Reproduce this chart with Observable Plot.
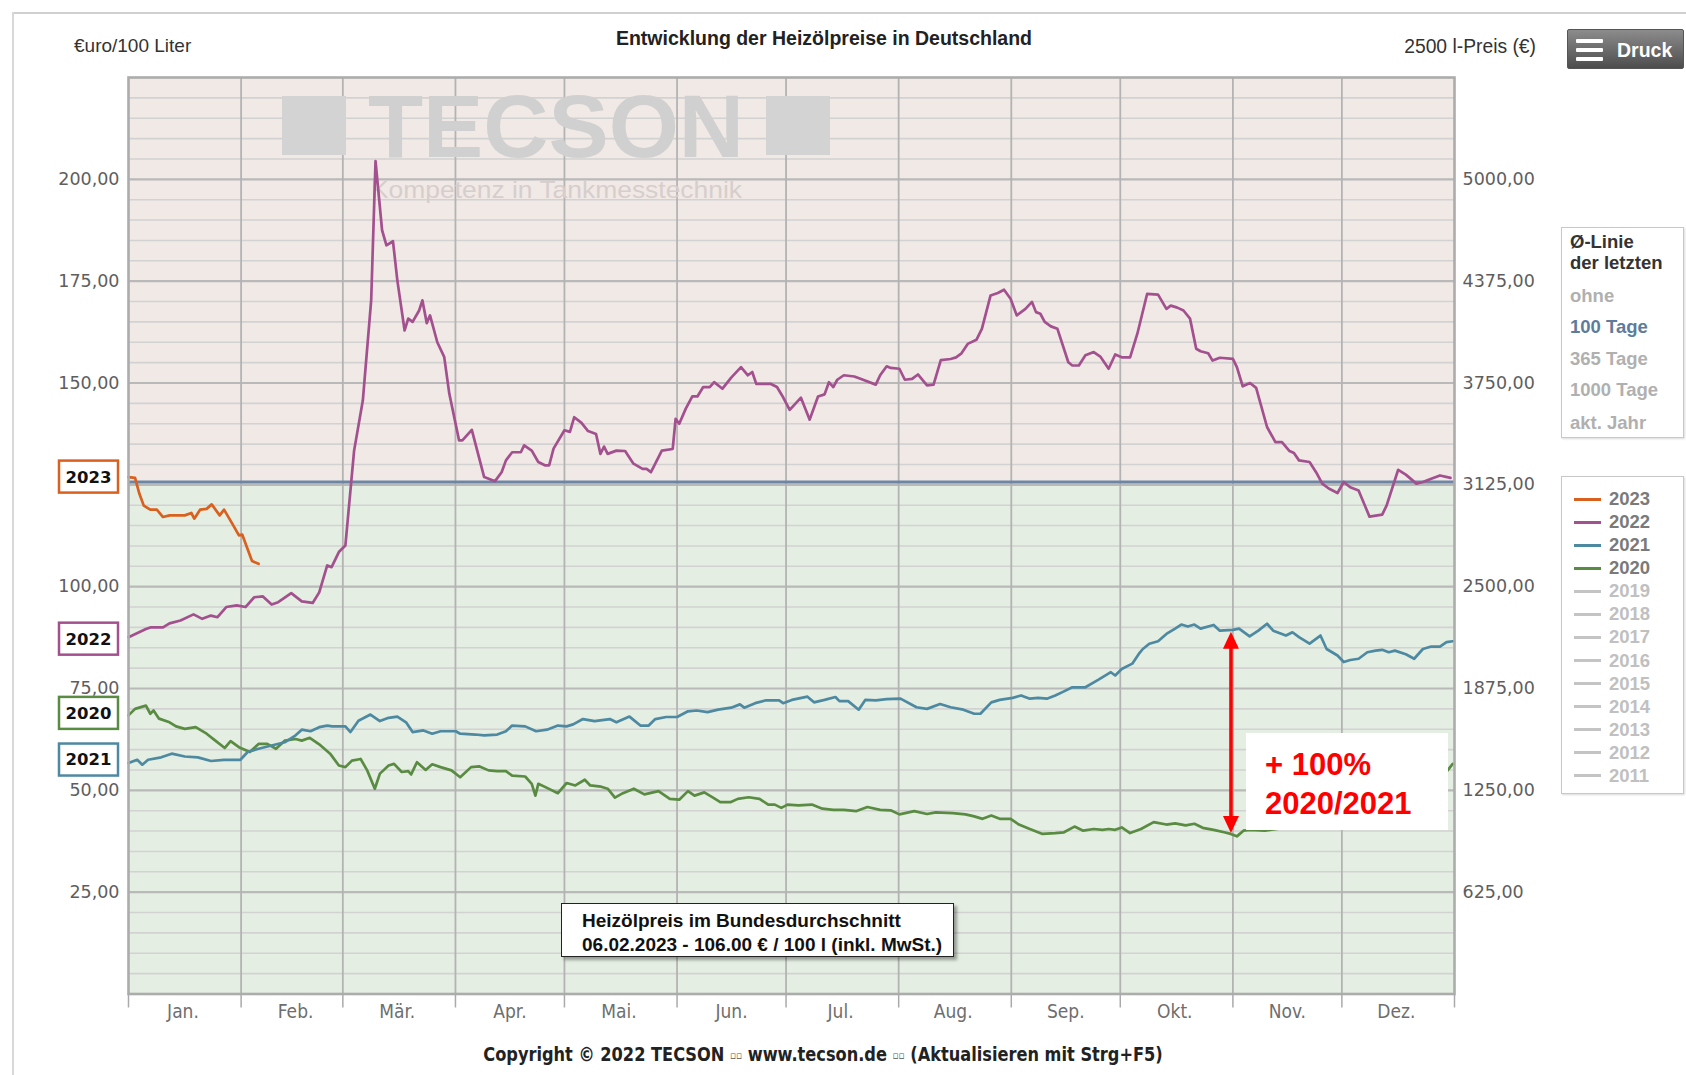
<!DOCTYPE html>
<html>
<head>
<meta charset="utf-8">
<script src="https://cdn.jsdelivr.net/npm/d3@7"></script>
<script src="https://cdn.jsdelivr.net/npm/@observablehq/plot@0.6"></script>
<style>
  html, body { margin: 0; padding: 0; background: #fff; }
  #wrap { position: relative; width: 1686px; height: 1075px; overflow: hidden; background: #fff; }
  #wrap svg.plot { position: absolute; left: 0; top: 0; }
  .abs { position: absolute; white-space: nowrap; }
  .arial { font-family: "Liberation Sans", Arial, sans-serif; }
  .narrow { font-family: "DejaVu Sans Condensed", "DejaVu Sans", sans-serif; font-stretch: condensed; }
  .ytick text { font-family: "DejaVu Sans", Verdana, sans-serif; font-size: 17.5px; fill: #5e5e5e; }
  .xtick text { font-family: "DejaVu Sans Condensed", "DejaVu Sans", sans-serif; font-stretch: condensed; font-size: 19px; fill: #6e6e6e; }
</style>
</head>
<body>
<div id="wrap"></div>
<script>
// ---------------- data ----------------
const months = ["Jan.","Feb.","Mär.","Apr.","Mai.","Jun.","Jul.","Aug.","Sep.","Okt.","Nov.","Dez."];
const monthStarts = [0,31,59,90,120,151,181,212,243,273,304,334,365];
const monthMids = [15,46,74,105,135,166,196,227,258,288,319,349];
const yTicks = [25,50,75,100,125,150,175,200];
const yTicksLeft = [25,50,75,100,150,175,200];   // 125,00 is hidden behind the "2023" tag in the reference
const yMinor = [5,10,15,20,30,35,40,45,55,60,65,70,80,85,90,95,105,110,115,120,130,135,140,145,155,160,165,170,180,185,190,195,205,210,215,220];
const avgLine = 125.7;           // Ø-Linie 100 Tage
const literFactor = 25;          // 2500 l-Preis = €/100 l × 25

const s2023 = [[0,126.9],[1.8,126.7],[3,122.8],[4.2,119.9],[6,118.9],[7.8,118.9],[9.5,117.1],[11.3,117.5],[15.5,117.5],[17.3,118.1],[18.1,116.7],[19.7,118.9],[21.5,119.1],[22.9,120.2],[25.1,117.5],[26.3,118.9],[28.6,115.4],[30.4,112.6],[31.3,112.8],[34,106.3],[35.8,105.6]];

const s2022 = [[0,87.6],[4.8,89.6],[6,90],[9.5,90],[11.3,91],[14.3,91.7],[17.9,93.2],[20.3,92.1],[22.7,92.9],[24.5,92.5],[26.9,95],[29.8,95.4],[32.2,95],[34.6,97.4],[37,97.6],[39.4,95.6],[41.2,96.2],[44.8,98.4],[47.7,96.4],[50.7,96],[52.5,98.6],[54.7,105.2],[55.9,104.8],[57.9,108.5],[59.7,110.1],[62.1,133.4],[64.5,145.7],[66.8,170.3],[68,204.5],[69.8,187.5],[71,183.8],[72.8,184.8],[74,175.2],[76,162.9],[77,165.8],[78.2,165],[80,167.8],[80.9,170.3],[82.1,164.7],[83,166.6],[85,160],[86.9,156.4],[88.3,147.4],[91,135.9],[91.9,135.9],[94.5,138.5],[97.9,126.9],[100.9,125.9],[102.7,128.1],[103.9,131],[105.6,133],[108,133],[108.9,134.7],[111,133.4],[112.8,130.6],[114.6,129.8],[115.8,129.8],[117,133.9],[120,138.4],[121.5,138],[122.7,141.6],[124.7,140.2],[126.5,138.2],[128.7,137.5],[129.9,132.6],[130.9,134.4],[131.9,132.6],[134.3,133.4],[136.7,133.3],[139,130.2],[141.5,128.9],[142.6,128.9],[143.8,128.1],[145,130.2],[146.8,133.4],[149.8,133.8],[150.6,141.2],[151.6,140],[153.4,143.7],[155.2,146.7],[156.6,146.7],[158.2,149],[160,149],[161.2,150.2],[163.5,148.6],[165.9,151.3],[168.6,153.9],[170.5,151.9],[171.7,152.7],[172.8,149.8],[176.7,149.8],[178.5,149],[180.2,146.5],[182,143.4],[185.1,146.4],[187.5,141],[189.8,146.7],[191.6,147.2],[192.8,150.2],[194,149],[195.1,150.8],[196.9,151.9],[199.8,151.6],[202.2,150.8],[205.7,149.6],[206.9,151.9],[208.7,154.1],[209.8,153.7],[212.2,153.5],[213.7,150.8],[215.7,151],[217.3,152.1],[219.8,149.4],[221.6,149.6],[223.6,155.6],[226.3,155.9],[227.8,156.3],[229.2,157.2],[231,159.6],[233.4,160.6],[234.9,163.3],[237.3,171.5],[239.3,172.1],[241,172.9],[242.8,170.7],[244.5,166.6],[246.9,168.2],[248.7,169.9],[249.8,167.4],[251,167],[252.2,165],[253.9,163.9],[255.7,163.3],[258.7,155.1],[259.8,154.3],[261.6,154.3],[263.4,156.8],[265.7,157.6],[267.5,156.5],[269.8,153.5],[271.6,157],[273.4,156.3],[275.7,156.3],[277.7,162.1],[280.4,171.9],[283.4,171.7],[285.7,168.2],[286.9,169],[288.7,168.5],[290.4,167.8],[292.2,165.8],[293.9,158.4],[295.1,157.8],[297.2,157.3],[298.4,155.5],[300.4,156.2],[304,155.9],[305.1,153.9],[306.7,149.2],[308.7,150],[310.4,148.8],[313.4,139.2],[315.7,135.5],[317.5,135.5],[319.6,133.3],[320.8,132.8],[322.2,131],[325.1,130.6],[326.9,128.1],[328.6,125.3],[330.4,124.1],[332.8,123],[334.5,125.7],[336.3,124.4],[338.6,123.6],[341.6,117.2],[345.1,117.7],[346.3,119.9],[349.5,128.7],[351.6,127.5],[354.5,125.3],[356.3,125.7],[358.6,126.5],[361,127.3],[363.9,126.7]];

const s2021 = [[0,56.7],[2.4,57.5],[3.8,56.3],[5.4,57.5],[9,58.1],[11.9,59],[15.5,58.3],[19.1,58.1],[22.7,57.2],[26.3,57.5],[30.8,57.5],[32.8,59.4],[35.8,60.2],[39.4,61],[43,61.8],[46,63.5],[47.7,64.9],[50.1,64.5],[52.5,65.5],[54.7,65.9],[56.1,65.7],[59.7,65.7],[61.1,64.3],[63.3,67.1],[66.6,68.6],[69.2,67],[71.6,67.8],[74,68.1],[76.4,66.7],[78.2,64.3],[81.2,64.7],[83.6,63.9],[85.9,64.5],[90.1,64.5],[91.3,63.9],[95.5,63.7],[97.9,63.5],[101.5,63.7],[103.9,64.5],[105.6,65.9],[109.2,65.7],[112.2,64.5],[115.2,64.9],[118.2,65.9],[120.6,65.7],[122.4,66.2],[125.1,67.5],[128.3,67],[132.5,67.5],[134.3,66.7],[137.9,68.1],[140.9,65.9],[143.2,65.9],[145,67.5],[148,68],[151,68],[154,69.4],[156.4,69.6],[159.4,69.2],[162.3,69.8],[165.9,70.3],[168.3,71.1],[169.5,70.3],[172.5,71.4],[175.5,72.1],[179.1,72.1],[180.2,71.4],[182.6,72.2],[186.9,73],[188.7,71.6],[191.6,72.2],[194.6,72.9],[195.7,71.9],[198.1,71.9],[201,69.8],[202.8,72.2],[205.7,72.1],[208.7,72.4],[212.5,72.5],[216.9,70.4],[219.8,70],[223.4,71.2],[226.3,70.4],[229.8,69.8],[232.8,68.8],[234.5,68.8],[237.5,71.6],[239.8,72.2],[243.4,72.7],[245.7,73.3],[248.1,72.5],[250.4,72.7],[252.8,72.5],[255.1,73.3],[257.5,74.3],[259.8,75.3],[263.4,75.3],[266.9,77.1],[270.4,79],[271.6,78.2],[273.4,79.8],[276.3,81.1],[278.1,83.5],[279.2,84.7],[281,86],[283.4,86.6],[285.7,88.4],[288.1,89.7],[289.8,90.7],[291.6,90.2],[293.4,90.7],[295.1,89.7],[298.7,90.6],[300.4,89.2],[304,89.4],[305.7,89.7],[308.6,87.8],[311,89.2],[313.4,90.9],[315.1,89.2],[318.6,88],[320.4,88.8],[322.2,87.6],[325.1,86],[328.1,88],[329.8,84.7],[332.8,83.1],[334.5,81.5],[336.3,82],[338.6,82.3],[341,83.9],[343.3,84.3],[345.1,84.5],[346.9,83.9],[348.6,84.3],[351.6,83.4],[353.9,82.3],[356.3,84.7],[358.6,85.3],[361,85.3],[362.8,86.4],[364.5,86.6]];

const s2020 = [[0,68.4],[1.8,70],[4.8,70.8],[6,68.8],[6.9,69.6],[8.4,67.6],[11.3,66.7],[13.1,65.7],[15.5,65.1],[18.5,65.5],[21.5,63.9],[23.9,62.2],[26.5,60.4],[28.1,62.1],[30.4,60.6],[33.4,59.4],[35.8,61.4],[38.2,61.4],[40.6,60.2],[43,62.2],[46,62.6],[47.7,62.2],[49.9,62.9],[52.5,61.3],[55.5,59],[57.9,56.1],[59.7,55.7],[61.5,57.3],[63.9,57.7],[65.7,54.9],[67.8,50.4],[69.2,54.1],[71.6,56.1],[73.1,56.5],[75.2,54.5],[77,54.7],[77.8,53.9],[79.4,56.9],[81.8,55],[83.6,56.4],[85.9,55.7],[88.9,54.9],[91.3,53.2],[94.3,55.7],[96.5,55.9],[99.1,54.9],[101.5,54.7],[103.9,54.7],[105.6,53.6],[109.2,53.4],[111,51.6],[112,48.7],[112.8,51.6],[115.2,50.6],[118.2,49.3],[120.6,51.8],[123,51.2],[125.6,52.6],[127.1,51.2],[130.1,50.9],[131.9,50.4],[133.9,48.2],[136.1,49.3],[139.1,50.4],[142,49],[145.9,49.8],[149,47.9],[151.6,47.7],[154,49.8],[155.8,48.7],[158.5,49.5],[160.9,48.2],[162.9,47.1],[165.7,47.1],[167.7,47.9],[170.7,48.3],[173.7,47.9],[176.1,46.5],[177.9,46.5],[179.7,45.7],[181.4,46.5],[184.4,46.3],[188.1,46.5],[191,45.5],[194,45.2],[196.9,45.2],[200.4,44.9],[203.4,45.9],[206.9,45.2],[209.8,45.1],[212.2,44.1],[216.3,44.9],[219.8,44.2],[222.2,44.6],[226.9,44.4],[230.4,44.1],[232.8,43.6],[235.1,43],[237.5,43.8],[239.8,43],[242.8,43],[245.1,41.6],[248.1,40.5],[251.6,39.3],[255.1,39.5],[257.5,39.7],[260.4,41.1],[262.8,40.1],[265.7,40.5],[268.1,40.3],[269.8,40.5],[271.6,40.3],[273.4,40.9],[275.7,39.5],[278.7,40.5],[282.2,42.2],[285.7,41.6],[288.1,41.9],[291,41.4],[293.4,41.8],[295.7,40.8],[298.7,40.3],[301.6,39.7],[303.4,39.3],[305.1,38.7],[306.9,40.1],[308.6,40.3],[312.8,40.1],[318,40.8],[326,42.5],[336,44.5],[346,47],[355,49.5],[361,52.5],[364.5,56.5]];

const seriesNames = ["2023","2022","2021","2020"];
const seriesColors = ["#d9601e","#a3508f","#4e89a2","#5a8b42"];
const seriesData = [s2023, s2022, s2021, s2020];

const legendYears = ["2023","2022","2021","2020","2019","2018","2017","2016","2015","2014","2013","2012","2011"];
const avgOptions = ["ohne","100 Tage","365 Tage","1000 Tage","akt. Jahr"];

// red annotation arrow (2020 → 2021)
const arrowDay = 303.6, arrowFrom = 39.4, arrowTo = 88.8;

const fmtDE = d => d.toFixed(2).replace(".", ",");

// ---------------- custom marks ----------------
function watermark(index, scales, values, dim) {
  const g = d3.create("svg:g").attr("text-anchor", "start");
  g.append("rect").attr("x", 282).attr("y", 96).attr("width", 64).attr("height", 59).attr("fill", "#d3d3d3");
  g.append("rect").attr("x", 766).attr("y", 96).attr("width", 64).attr("height", 59).attr("fill", "#d3d3d3");
  g.append("text").attr("x", 368).attr("y", 157)
    .attr("font-family", "Liberation Sans, Arial, sans-serif").attr("font-weight", "bold").attr("font-size", 89)
    .attr("fill", "#d0d0d0").attr("textLength", 376).attr("lengthAdjust", "spacingAndGlyphs").text("TECSON");
  g.append("text").attr("x", 371).attr("y", 198)
    .attr("font-family", "Liberation Sans, Arial, sans-serif").attr("font-size", 24)
    .attr("fill", "#d6cecc").attr("textLength", 371).attr("lengthAdjust", "spacingAndGlyphs").text("Kompetenz in Tankmesstechnik");
  return g.node();
}

function seriesTags(index, scales, values, dim) {
  const g = d3.create("svg:g");
  const offs = [0, 2, -3, -2];
  const order = [0, 1, 3, 2];
  for (const i of order) {
    const y = scales.y(seriesData[i][0][1]) + offs[i];
    const x0 = dim.marginLeft - 69;
    g.append("rect").attr("x", x0).attr("y", y - 16).attr("width", 59).attr("height", 32)
      .attr("fill", "#fff").attr("stroke", seriesColors[i]).attr("stroke-width", 2.5);
    g.append("text").attr("x", x0 + 29.5).attr("y", y).attr("dy", "0.36em").attr("text-anchor", "middle")
      .attr("font-family", "DejaVu Sans, Verdana, sans-serif").attr("font-weight", "bold").attr("font-size", 16.5)
      .attr("fill", "#111").text(seriesNames[i]);
  }
  return g.node();
}

function doubleArrow(index, scales, values, dim) {
  const g = d3.create("svg:g");
  const x = scales.x(arrowDay), yTop = scales.y(arrowTo), yBot = scales.y(arrowFrom);
  const hl = 17, hw = 8;
  g.append("line").attr("x1", x).attr("x2", x).attr("y1", yTop + hl - 2).attr("y2", yBot - hl + 2)
    .attr("stroke", "#f00").attr("stroke-width", 3.5);
  g.append("path").attr("d", `M${x},${yTop}L${x - hw},${yTop + hl}L${x + hw},${yTop + hl}Z`).attr("fill", "#f00");
  g.append("path").attr("d", `M${x},${yBot}L${x - hw},${yBot - hl}L${x + hw},${yBot - hl}Z`).attr("fill", "#f00");
  return g.node();
}

// ---------------- plot ----------------
const lineMarks = [3, 2, 1, 0].map(i =>
  Plot.line(seriesData[i], {x: d => d[0], y: d => d[1], stroke: seriesColors[i], strokeWidth: 2.7, strokeLinejoin: "round", strokeLinecap: "round"})
);

const chart = Plot.plot({
  width: 1686,
  height: 1075,
  marginLeft: 128,
  marginRight: 232,
  marginTop: 77,
  marginBottom: 81.5,
  x: {domain: [0, 365]},
  y: {domain: [0, 225]},
  style: {background: "transparent", overflow: "visible"},
  marks: [
    Plot.rect([avgLine], {x1: () => 0, x2: () => 365, y1: d => d, y2: () => 225, fill: "#f1e9e6"}),
    Plot.rect([avgLine], {x1: () => 0, x2: () => 365, y1: () => 0, y2: d => d, fill: "#e4eee2"}),
    Plot.ruleY(yMinor, {stroke: "#d2d2d2", strokeWidth: 1.6}),
    Plot.ruleY(yTicks, {stroke: "#b9b9b9", strokeWidth: 2.2}),
    Plot.ruleX(monthStarts.slice(1, -1), {stroke: "#b3b3b3", strokeWidth: 1.8}),
    watermark,
    Plot.ruleY([avgLine], {stroke: "#6d86a3", strokeWidth: 3}),
    ...lineMarks,
    Plot.frame({stroke: "#acacac", strokeWidth: 2.6}),
    Plot.axisY(yTicksLeft, {anchor: "left", tickSize: 0, tickPadding: 9, tickFormat: fmtDE, label: null, className: "ytick"}),
    Plot.axisY(yTicks, {anchor: "right", tickSize: 0, tickPadding: 8, tickFormat: d => fmtDE(d * literFactor), label: null, className: "ytick"}),
    Plot.axisX(monthStarts, {anchor: "bottom", tickSize: 14, tickFormat: () => "", stroke: "#aaa", strokeWidth: 1.5, label: null}),
    Plot.axisX(monthMids, {anchor: "bottom", tickSize: 0, tickPadding: 10, tickFormat: d => months[monthMids.indexOf(d)], label: null, className: "xtick"}),
    seriesTags,
    doubleArrow
  ]
});
chart.classList.add("plot");

const wrap = document.getElementById("wrap");
wrap.appendChild(chart);

// ---------------- HTML decorations ----------------
function add(html, style, cls) {
  const el = document.createElement("div");
  el.className = "abs " + (cls || "");
  el.innerHTML = html;
  Object.assign(el.style, style);
  wrap.appendChild(el);
  return el;
}
// page border lines
add("", {left: "13px", top: "12px", width: "1673px", height: "0", borderTop: "2px solid #d0d0d0"});
add("", {left: "12px", top: "12px", width: "0", height: "1063px", borderLeft: "2px solid #d8d8d8"});

add("€uro/100 Liter", {left: "74px", top: "35px", fontSize: "19px", color: "#333", lineHeight: "22px"}, "arial");
add("Entwicklung der Heizölpreise in Deutschland", {left: "0", width: "1648px", textAlign: "center", top: "27px", fontSize: "19.5px", fontWeight: "bold", color: "#222", lineHeight: "22px"}, "arial");
add("2500 l-Preis (€)", {right: "150px", top: "36px", fontSize: "19.3px", color: "#333", lineHeight: "22px"}, "arial");

// Druck button
add(`<div style="position:absolute;left:8px;top:9px;width:27px;height:4px;background:#fff;border-radius:1px"></div>
<div style="position:absolute;left:8px;top:18px;width:27px;height:4px;background:#fff;border-radius:1px"></div>
<div style="position:absolute;left:8px;top:27px;width:27px;height:4px;background:#fff;border-radius:1px"></div>
<div style="position:absolute;left:49px;top:8px;font-size:19.5px;font-weight:bold;color:#fff;line-height:24px">Druck</div>`,
  {left: "1567px", top: "29px", width: "117px", height: "40px", background: "linear-gradient(#8c8c8c, #4d4d4d)", border: "1px solid #555", borderRadius: "2px", boxSizing: "border-box"}, "arial");

// Ø-Linie box
const avgColors = ["#b0b0b0", "#5d7c9b", "#b0b0b0", "#b0b0b0", "#b0b0b0"];
const avgTop = [295, 326, 358, 389, 422];
let avgHtml = `<div style="position:absolute;left:8px;top:3px;line-height:21px;color:#333;font-size:18.5px;font-weight:bold">Ø-Linie<br>der letzten</div>`;
avgOptions.forEach((t, i) => {
  avgHtml += `<div style="position:absolute;left:8px;top:${avgTop[i] - 227 - 12}px;line-height:24px;color:${avgColors[i]};font-size:18.5px;font-weight:bold">${t}</div>`;
});
add(avgHtml, {left: "1561px", top: "227px", width: "123px", height: "211px", border: "1px solid #c8c8c8", boxSizing: "border-box", background: "#fff", boxShadow: "1px 1px 2px rgba(0,0,0,0.15)"}, "arial");

// year legend box
let legHtml = "";
legendYears.forEach((yr, i) => {
  const si = seriesNames.indexOf(yr);
  const col = si >= 0 ? seriesColors[si] : "#c4c4c4";
  const tcol = si >= 0 ? "#7a7a7a" : "#c0c0c0";
  const cy = 498 + i * 23.08 - 476;
  legHtml += `<div style="position:absolute;left:12px;top:${cy - 1.5}px;width:27px;height:3px;background:${col}"></div>`;
  legHtml += `<div style="position:absolute;left:47px;top:${cy - 11}px;line-height:22px;font-size:18.5px;font-weight:bold;color:${tcol}">${yr}</div>`;
});
add(legHtml, {left: "1561px", top: "476px", width: "123px", height: "318px", border: "1px solid #c8c8c8", boxSizing: "border-box", background: "#fff", boxShadow: "1px 1px 2px rgba(0,0,0,0.15)"}, "arial");

// info box
add(`<div style="position:absolute;left:20px;top:5px;line-height:23.5px;font-size:19px;font-weight:bold;color:#111">Heizölpreis im Bundesdurchschnitt<br>06.02.2023 - 106.00 € / 100 l (inkl. MwSt.)</div>`,
  {left: "561px", top: "903px", width: "393px", height: "54px", background: "#fff", border: "1.5px solid #222", boxSizing: "border-box", boxShadow: "3px 3px 3px rgba(0,0,0,0.35)"}, "arial");

// red annotation box
add(`<div style="position:absolute;left:19px;top:12px;line-height:39px;font-size:31px;font-weight:bold;color:#f00">+ 100%<br>2020/2021</div>`,
  {left: "1246px", top: "733px", width: "202px", height: "97px", background: "#fff"}, "arial");

// copyright
add(`Copyright © 2022 TECSON <span style="font-size:11px;color:#555;vertical-align:2px">▫▫</span> www.tecson.de <span style="font-size:11px;color:#555;vertical-align:2px">▫▫</span> (Aktualisieren mit Strg+F5)`,
  {left: "0", width: "1646px", textAlign: "center", top: "1042px", fontSize: "20px", fontWeight: "bold", color: "#222", lineHeight: "24px", transform: "scaleX(0.9)", transformOrigin: "823px 0"}, "narrow");
</script>
</body>
</html>
